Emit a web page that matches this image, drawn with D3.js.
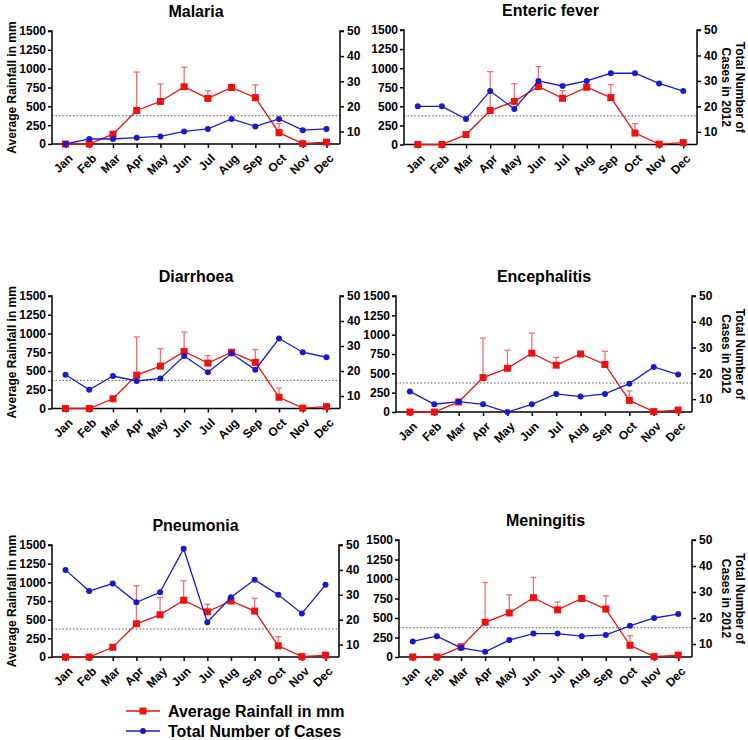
<!DOCTYPE html>
<html><head><meta charset="utf-8">
<script src="https://cdn.jsdelivr.net/npm/d3@7"></script>
<style>body{margin:0;background:#fff}svg{display:block;font-family:"Liberation Sans",Arial,sans-serif}</style>
</head><body><svg id="c" width="748" height="740"></svg>
<script>
const months = ["Jan","Feb","Mar","Apr","May","Jun","Jul","Aug","Sep","Oct","Nov","Dec"];
const rainfall = [0, 0, 130, 445, 565, 760, 605, 750, 615, 150, 5, 25];
const rainfallUpper = [0, 0, 130, 955, 797, 1020, 705, 770, 785, 272, 10, 50];
const rainTicks = [0, 250, 500, 750, 1000, 1250, 1500];
const caseTicks = [10, 20, 30, 40, 50];
const threshold = 375;
const malaria = [5, 7, 7, 7.5, 8, 10, 11, 15, 12, 15, 10.5, 11];
const enteric = [20, 20, 15, 26, 19, 30, 28, 30, 33, 33, 29, 26];
const diarrhoea = [18.5, 12.5, 18, 16, 17, 26, 19.5, 27, 20.5, 33, 27.5, 25.5];
const encephalitis = [13, 8, 9, 8, 5, 8, 12, 11, 12, 16, 22.5, 19.5];
const pneumonia = [40, 31.5, 34.5, 27, 31, 48.5, 19, 29, 36, 30, 22.5, 34];
const meningitis = [11, 13, 8.5, 7, 11.5, 14, 14, 13, 13.5, 17, 20, 21.5];
const titles = ["Malaria","Enteric fever","Diarrhoea","Encephalitis","Pneumonia","Meningitis"];
const caseSeries = [malaria, enteric, diarrhoea, encephalitis, pneumonia, meningitis];
const legendLabels = ["Average Rainfall in mm","Total Number of Cases"];

const layout = [
  {l:52,r:340,t:31,b:144,side:"left"},
  {l:404,r:697,t:30,b:144.5,side:"right"},
  {l:52,r:340,t:296,b:408.5,side:"left"},
  {l:396,r:692,t:296,b:412,side:"right"},
  {l:52,r:339,t:545,b:657,side:"left"},
  {l:399,r:692,t:540,b:657,side:"right"}
];
const RED = "#ee1111", BLUE = "#1a1acc", ERR = "#f07070";
const svg = d3.select("#c");
const FONT = "'Liberation Sans',Arial,sans-serif";

layout.forEach((p, i) => {
  const g = svg.append("g");
  const x = d3.scalePoint().domain(months).range([p.l, p.r]).padding(0.57);
  const yL = d3.scaleLinear().domain([0,1500]).range([p.b, p.t]);
  const yR = d3.scaleLinear().domain([5,50]).range([p.b, p.t]);

  g.append("line").attr("x1",p.l).attr("x2",p.r).attr("y1",yL(threshold)).attr("y2",yL(threshold))
    .attr("stroke","#555").attr("stroke-width",1).attr("stroke-dasharray","1.5,2");

  const axL = g.append("g").attr("transform",`translate(${p.l},0)`)
    .call(d3.axisLeft(yL).tickValues(rainTicks).tickFormat(d3.format("d")).tickSize(4).tickPadding(2));
  const axR = g.append("g").attr("transform",`translate(${p.r},0)`)
    .call(d3.axisRight(yR).tickValues(caseTicks).tickFormat(d3.format("d")).tickSize(4).tickPadding(3));
  const axB = g.append("g").attr("transform",`translate(0,${p.b})`)
    .call(d3.axisBottom(x).tickSize(4).tickSizeOuter(0).tickFormat(""));
  [axL,axR,axB].forEach(a=>{
    a.selectAll("path,line").attr("stroke","#000").attr("stroke-width",1.5);
    a.selectAll("text").attr("font-size",12).attr("font-weight","bold").attr("fill","#000")
      .attr("font-family",FONT);
  });
  axB.select(".domain").attr("d",`M${p.l},0H${p.r}`);
  axL.select(".domain").attr("d",`M-4,${p.t}H0V${p.b}`);
  axR.select(".domain").attr("d",`M4,${p.t}H0V${p.b}`);

  // rotated month labels (wrapped in rotated groups)
  const lab = g.append("g").selectAll("g").data(months).enter().append("g")
    .attr("transform", m => `translate(${x(m)+5},${p.b+12}) rotate(-45)`);
  lab.append("text")
    .attr("text-anchor","end").attr("dy","0.35em")
    .attr("font-size",12).attr("font-weight","bold").attr("fill","#000")
    .text(m => m);

  g.append("text").attr("x",(p.l+p.r)/2).attr("y",p.t-14).attr("text-anchor","middle")
    .attr("font-size",16).attr("font-weight","bold").text(titles[i]);

  if (p.side==="left") {
    g.append("text").attr("transform",`translate(16,${(p.t+p.b)/2}) rotate(-90)`)
      .attr("text-anchor","middle").attr("font-size",12).attr("font-weight","bold").text("Average Rainfall in mm");
  } else {
    const tt = g.append("text").attr("transform",`translate(736,${(p.t+p.b)/2}) rotate(90)`)
      .attr("text-anchor","middle").attr("font-size",12).attr("font-weight","bold");
    tt.append("tspan").attr("x",0).attr("dy",0).text("Total Number of");
    tt.append("tspan").attr("x",0).attr("dy",14).text("Cases in 2012");
  }

  const eb = g.append("g").attr("stroke",ERR).attr("stroke-width",1.3);
  months.forEach((m,j)=>{
    if (rainfallUpper[j] > rainfall[j]) {
      eb.append("line").attr("x1",x(m)).attr("x2",x(m)).attr("y1",yL(rainfall[j])).attr("y2",yL(rainfallUpper[j]));
      eb.append("line").attr("x1",x(m)-3).attr("x2",x(m)+3).attr("y1",yL(rainfallUpper[j])).attr("y2",yL(rainfallUpper[j]));
    }
  });
  g.append("path").datum(rainfall).attr("fill","none").attr("stroke",RED).attr("stroke-width",1.3)
    .attr("d",d3.line().x((d,j)=>x(months[j])).y(d=>yL(d)));
  g.selectAll(".sq").data(rainfall).enter().append("rect")
    .attr("x",(d,j)=>x(months[j])-3.5).attr("y",d=>yL(d)-3.5).attr("width",7).attr("height",7).attr("fill",RED);
  const cs = caseSeries[i];
  g.append("path").datum(cs).attr("fill","none").attr("stroke",BLUE).attr("stroke-width",1.3)
    .attr("d",d3.line().x((d,j)=>x(months[j])).y(d=>yR(d)));
  g.selectAll(".ci").data(cs).enter().append("circle")
    .attr("cx",(d,j)=>x(months[j])).attr("cy",d=>yR(d)).attr("r",3).attr("fill",BLUE);
});

const lg = svg.append("g");
legendLabels.forEach((lab,k)=>{
  const yy = 711 + k*20;
  const c = k===0?RED:BLUE;
  lg.append("line").attr("x1",126).attr("x2",160).attr("y1",yy).attr("y2",yy).attr("stroke",c).attr("stroke-width",1.5);
  if (k===0) lg.append("rect").attr("x",139.5).attr("y",yy-3.5).attr("width",7).attr("height",7).attr("fill",c);
  else lg.append("circle").attr("cx",143).attr("cy",yy).attr("r",3).attr("fill",c);
  lg.append("text").attr("x",168).attr("y",yy).attr("dy","0.35em").attr("font-size",16).attr("font-weight","bold").text(lab);
});
</script></body></html>
